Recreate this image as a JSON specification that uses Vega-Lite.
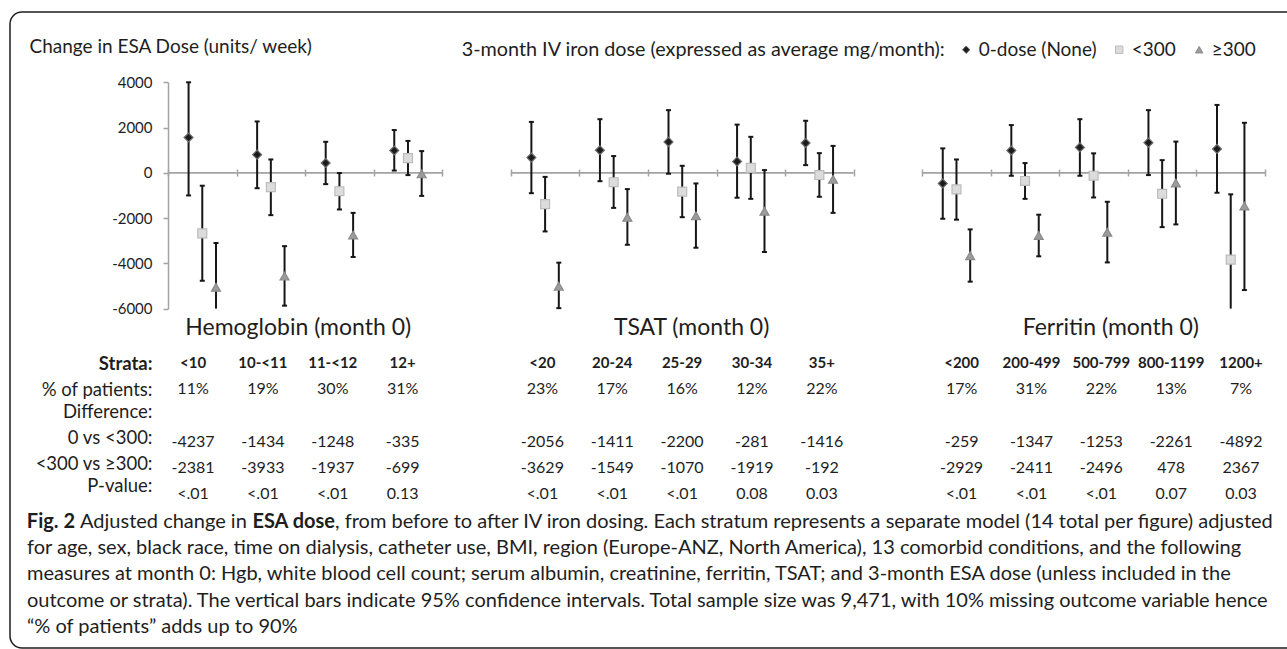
{
  "$schema": "https://vega.github.io/schema/vega-lite/v6.json",
  "width": 1290,
  "height": 636,
  "autosize": {"type": "none"},
  "padding": {"left": 10, "top": 12, "right": -13, "bottom": 1},
  "background": "white",
  "config": {
    "view": {"stroke": "#1e1e1e", "strokeWidth": 1.5, "cornerRadius": 12},
    "font": "Lato",
    "text": {"font": "Lato", "color": "#1e1e1e"},
    "axis": {"grid": false, "labelFont": "Lato", "titleFont": "Lato", "labelColor": "#1e1e1e", "titleColor": "#1e1e1e"},
    "legend": {
      "orient": "none", "legendX": 451.7, "legendY": 28, "direction": "horizontal",
      "titleOrient": "left", "titleFont": "Lato", "titleFontSize": 19.8, "titleFontWeight": "normal",
      "titleColor": "#1e1e1e", "titleLimit": 700, "titlePadding": 11,
      "labelFont": "Lato", "labelFontSize": 19, "labelColor": "#1e1e1e", "labelLimit": 300, "labelOffset": 3,
      "symbolSize": 55, "symbolStrokeWidth": 1, "columnPadding": 13, "padding": 0
    }
  },
  "datasets": {
    "estimates": [
      {"stratum": "<10", "dose": "0-dose (None)", "est": 1560, "lo": -1000, "hi": 4060},
      {"stratum": "<10", "dose": "<300", "est": -2677, "lo": -4770, "hi": -570},
      {"stratum": "<10", "dose": "≥300", "est": -5058, "lo": -7020, "hi": -3100},
      {"stratum": "10-<11", "dose": "0-dose (None)", "est": 802, "lo": -680, "hi": 2270},
      {"stratum": "10-<11", "dose": "<300", "est": -632, "lo": -1870, "hi": 590},
      {"stratum": "10-<11", "dose": "≥300", "est": -4565, "lo": -5870, "hi": -3240},
      {"stratum": "11-<12", "dose": "0-dose (None)", "est": 434, "lo": -500, "hi": 1370},
      {"stratum": "11-<12", "dose": "<300", "est": -814, "lo": -1620, "hi": -10},
      {"stratum": "11-<12", "dose": "≥300", "est": -2751, "lo": -3720, "hi": -1770},
      {"stratum": "12+", "dose": "0-dose (None)", "est": 987, "lo": 100, "hi": 1890},
      {"stratum": "12+", "dose": "<300", "est": 652, "lo": -100, "hi": 1410},
      {"stratum": "12+", "dose": "≥300", "est": -47, "lo": -1020, "hi": 960},
      {"stratum": "<20", "dose": "0-dose (None)", "est": 673, "lo": -900, "hi": 2250},
      {"stratum": "<20", "dose": "<300", "est": -1383, "lo": -2590, "hi": -180},
      {"stratum": "<20", "dose": "≥300", "est": -5012, "lo": -5980, "hi": -3970},
      {"stratum": "20-24", "dose": "0-dose (None)", "est": 996, "lo": -370, "hi": 2370},
      {"stratum": "20-24", "dose": "<300", "est": -415, "lo": -1550, "hi": 740},
      {"stratum": "20-24", "dose": "≥300", "est": -1964, "lo": -3180, "hi": -720},
      {"stratum": "25-29", "dose": "0-dose (None)", "est": 1367, "lo": -40, "hi": 2770},
      {"stratum": "25-29", "dose": "<300", "est": -833, "lo": -1960, "hi": 310},
      {"stratum": "25-29", "dose": "≥300", "est": -1903, "lo": -3310, "hi": -470},
      {"stratum": "30-34", "dose": "0-dose (None)", "est": 498, "lo": -1100, "hi": 2130},
      {"stratum": "30-34", "dose": "<300", "est": 217, "lo": -1150, "hi": 1590},
      {"stratum": "30-34", "dose": "≥300", "est": -1702, "lo": -3500, "hi": 120},
      {"stratum": "35+", "dose": "0-dose (None)", "est": 1318, "lo": 340, "hi": 2300},
      {"stratum": "35+", "dose": "<300", "est": -98, "lo": -1060, "hi": 870},
      {"stratum": "35+", "dose": "≥300", "est": -290, "lo": -1770, "hi": 1190},
      {"stratum": "<200", "dose": "0-dose (None)", "est": -474, "lo": -2030, "hi": 1080},
      {"stratum": "<200", "dose": "<300", "est": -733, "lo": -2070, "hi": 590},
      {"stratum": "<200", "dose": "≥300", "est": -3662, "lo": -4810, "hi": -2500},
      {"stratum": "200-499", "dose": "0-dose (None)", "est": 986, "lo": -130, "hi": 2110},
      {"stratum": "200-499", "dose": "<300", "est": -361, "lo": -1150, "hi": 430},
      {"stratum": "200-499", "dose": "≥300", "est": -2772, "lo": -3690, "hi": -1850},
      {"stratum": "500-799", "dose": "0-dose (None)", "est": 1124, "lo": -130, "hi": 2370},
      {"stratum": "500-799", "dose": "<300", "est": -129, "lo": -1090, "hi": 860},
      {"stratum": "500-799", "dose": "≥300", "est": -2625, "lo": -3960, "hi": -1280},
      {"stratum": "800-1199", "dose": "0-dose (None)", "est": 1334, "lo": -100, "hi": 2770},
      {"stratum": "800-1199", "dose": "<300", "est": -927, "lo": -2400, "hi": 560},
      {"stratum": "800-1199", "dose": "≥300", "est": -449, "lo": -2280, "hi": 1380},
      {"stratum": "1200+", "dose": "0-dose (None)", "est": 1055, "lo": -880, "hi": 3000},
      {"stratum": "1200+", "dose": "<300", "est": -3837, "lo": -6720, "hi": -950},
      {"stratum": "1200+", "dose": "≥300", "est": -1470, "lo": -5180, "hi": 2210}
    ],
    "strata": [
      {"panel": "Hemoglobin", "stratum": "<10", "pct": "11%", "d1": "-4237", "d2": "-2381", "p": "<.01"},
      {"panel": "Hemoglobin", "stratum": "10-<11", "pct": "19%", "d1": "-1434", "d2": "-3933", "p": "<.01"},
      {"panel": "Hemoglobin", "stratum": "11-<12", "pct": "30%", "d1": "-1248", "d2": "-1937", "p": "<.01"},
      {"panel": "Hemoglobin", "stratum": "12+", "pct": "31%", "d1": "-335", "d2": "-699", "p": "0.13"},
      {"panel": "TSAT", "stratum": "<20", "pct": "23%", "d1": "-2056", "d2": "-3629", "p": "<.01"},
      {"panel": "TSAT", "stratum": "20-24", "pct": "17%", "d1": "-1411", "d2": "-1549", "p": "<.01"},
      {"panel": "TSAT", "stratum": "25-29", "pct": "16%", "d1": "-2200", "d2": "-1070", "p": "<.01"},
      {"panel": "TSAT", "stratum": "30-34", "pct": "12%", "d1": "-281", "d2": "-1919", "p": "0.08"},
      {"panel": "TSAT", "stratum": "35+", "pct": "22%", "d1": "-1416", "d2": "-192", "p": "0.03"},
      {"panel": "Ferritin", "stratum": "<200", "pct": "17%", "d1": "-259", "d2": "-2929", "p": "<.01"},
      {"panel": "Ferritin", "stratum": "200-499", "pct": "31%", "d1": "-1347", "d2": "-2411", "p": "<.01"},
      {"panel": "Ferritin", "stratum": "500-799", "pct": "22%", "d1": "-1253", "d2": "-2496", "p": "<.01"},
      {"panel": "Ferritin", "stratum": "800-1199", "pct": "13%", "d1": "-2261", "d2": "478", "p": "0.07"},
      {"panel": "Ferritin", "stratum": "1200+", "pct": "7%", "d1": "-4892", "d2": "2367", "p": "0.03"}
    ],
    "caption": [
      {"line": "1", "run": "fig", "text": "Fig. 2"},
      {"line": "1", "run": "lead", "text": "Adjusted change in"},
      {"line": "1", "run": "term", "text": "ESA dose"},
      {"line": "1", "run": "tail", "text": ", from before to after IV iron dosing. Each stratum represents a separate model (14 total per figure) adjusted"},
      {"line": "2", "run": "body", "text": "for age, sex, black race, time on dialysis, catheter use, BMI, region (Europe-ANZ, North America), 13 comorbid conditions, and the following"},
      {"line": "3", "run": "body", "text": "measures at month 0: Hgb, white blood cell count; serum albumin, creatinine, ferritin, TSAT; and 3-month ESA dose (unless included in the"},
      {"line": "4", "run": "body", "text": "outcome or strata). The vertical bars indicate 95% confidence intervals. Total sample size was 9,471, with 10% missing outcome variable hence"},
      {"line": "5", "run": "body", "text": "“% of patients” adds up to 90%"}
    ]
  },
  "layer": [
    {
      "encoding": {
        "x": {
          "field": "stratum", "type": "nominal",
          "scale": {
            "domain": ["<10", "10-<11", "11-<12", "12+", "gap1", "<20", "20-24", "25-29", "30-34", "35+", "gap2", "<200", "200-499", "500-799", "800-1199", "1200+"],
            "range": [158, 1255], "paddingInner": 0, "paddingOuter": 0
          },
          "axis": {
            "orient": "top", "offset": -164, "domain": false, "labels": false, "ticks": true,
            "tickBand": "extent", "tickSize": 7, "tickColor": "#a3a3a3", "tickWidth": 1.5, "title": null
          }
        }
      },
      "layer": [
        {
          "data": {"name": "strata"},
          "mark": {"type": "bar", "fill": null, "stroke": "#a3a3a3", "strokeWidth": 1.8},
          "encoding": {
            "y": {
              "datum": 0, "type": "quantitative",
              "scale": {"domain": [-6000, 4000], "range": [296.6, 70.3], "nice": false, "zero": false, "clamp": true},
              "axis": {
                "orient": "left", "offset": -158, "values": [-6000, -4000, -2000, 0, 2000, 4000],
                "labelExpr": "datum.value + ''", "domainColor": "#a3a3a3", "domainWidth": 1.5,
                "tickColor": "#a3a3a3", "tickWidth": 1.5, "tickSize": 5, "labelPadding": 11, "labelFontSize": 15,
                "title": "Change in ESA Dose (units/ week)", "titleAngle": 0, "titleAlign": "left", "titleBaseline": "middle",
                "titleX": -139, "titleY": 34, "titleFontSize": 19, "titleFontWeight": "normal", "titleLimit": 500
              }
            },
            "y2": {"datum": 0}
          }
        },
        {
          "data": {"name": "estimates"},
          "mark": {"type": "rule", "color": "#161616", "strokeWidth": 2},
          "encoding": {
            "xOffset": {"field": "dose", "type": "nominal", "scale": {"domain": ["0-dose (None)", "<300", "≥300"], "paddingInner": 0, "paddingOuter": 1.04}},
            "y": {
              "field": "lo", "type": "quantitative",
              "scale": {"domain": [-6000, 4000], "range": [296.6, 70.3], "nice": false, "zero": false, "clamp": true},
              "axis": {
                "orient": "left", "offset": -158, "values": [-6000, -4000, -2000, 0, 2000, 4000],
                "labelExpr": "datum.value + ''", "domainColor": "#a3a3a3", "domainWidth": 1.5,
                "tickColor": "#a3a3a3", "tickWidth": 1.5, "tickSize": 5, "labelPadding": 11, "labelFontSize": 15,
                "title": "Change in ESA Dose (units/ week)", "titleAngle": 0, "titleAlign": "left", "titleBaseline": "middle",
                "titleX": -139, "titleY": 34, "titleFontSize": 19, "titleFontWeight": "normal", "titleLimit": 500
              }
            },
            "y2": {"field": "hi"}
          }
        },
        {
          "data": {"name": "estimates"},
          "transform": [
            {"fold": ["lo", "hi"], "as": ["bound", "ci"]},
            {"filter": "datum.ci >= -6000"}
          ],
          "mark": {"type": "tick", "color": "#161616", "thickness": 2, "size": 5, "opacity": 1},
          "encoding": {
            "xOffset": {"field": "dose", "type": "nominal", "scale": {"domain": ["0-dose (None)", "<300", "≥300"], "paddingInner": 0, "paddingOuter": 1.04}},
            "y": {
              "field": "ci", "type": "quantitative",
              "scale": {"domain": [-6000, 4000], "range": [296.6, 70.3], "nice": false, "zero": false, "clamp": true},
              "axis": {
                "orient": "left", "offset": -158, "values": [-6000, -4000, -2000, 0, 2000, 4000],
                "labelExpr": "datum.value + ''", "domainColor": "#a3a3a3", "domainWidth": 1.5,
                "tickColor": "#a3a3a3", "tickWidth": 1.5, "tickSize": 5, "labelPadding": 11, "labelFontSize": 15,
                "title": "Change in ESA Dose (units/ week)", "titleAngle": 0, "titleAlign": "left", "titleBaseline": "middle",
                "titleX": -139, "titleY": 34, "titleFontSize": 19, "titleFontWeight": "normal", "titleLimit": 500
              }
            }
          }
        },
        {
          "data": {"name": "estimates"},
          "mark": {"type": "point", "filled": true, "size": 80, "strokeWidth": 1.2, "opacity": 1},
          "encoding": {
            "xOffset": {"field": "dose", "type": "nominal", "scale": {"domain": ["0-dose (None)", "<300", "≥300"], "paddingInner": 0, "paddingOuter": 1.04}},
            "y": {
              "field": "est", "type": "quantitative",
              "scale": {"domain": [-6000, 4000], "range": [296.6, 70.3], "nice": false, "zero": false, "clamp": true},
              "axis": {
                "orient": "left", "offset": -158, "values": [-6000, -4000, -2000, 0, 2000, 4000],
                "labelExpr": "datum.value + ''", "domainColor": "#a3a3a3", "domainWidth": 1.5,
                "tickColor": "#a3a3a3", "tickWidth": 1.5, "tickSize": 5, "labelPadding": 11, "labelFontSize": 15,
                "title": "Change in ESA Dose (units/ week)", "titleAngle": 0, "titleAlign": "left", "titleBaseline": "middle",
                "titleX": -139, "titleY": 34, "titleFontSize": 19, "titleFontWeight": "normal", "titleLimit": 500
              }
            },
            "shape": {"field": "dose", "type": "nominal", "scale": {"domain": ["0-dose (None)", "<300", "≥300"], "range": ["diamond", "square", "triangle-up"]}, "title": "3-month IV iron dose (expressed as average mg/month):"},
            "fill": {"field": "dose", "type": "nominal", "scale": {"domain": ["0-dose (None)", "<300", "≥300"], "range": ["#1c1c1c", "#dcdcdc", "#9c9c9c"]}, "title": "3-month IV iron dose (expressed as average mg/month):"},
            "stroke": {"field": "dose", "type": "nominal", "scale": {"domain": ["0-dose (None)", "<300", "≥300"], "range": ["#6e6e6e", "#bcbcbc", "#8a8a8a"]}, "title": "3-month IV iron dose (expressed as average mg/month):"}
          }
        }
      ]
    },
    {
      "data": {"name": "strata"},
      "transform": [{"fold": ["stratum", "pct", "d1", "d2", "p"], "as": ["item", "val"]}],
      "encoding": {
        "x": {
          "field": "stratum", "type": "nominal",
          "scale": {
            "domain": ["<10", "10-<11", "11-<12", "12+", "gap1", "<20", "20-24", "25-29", "30-34", "35+", "gap2", "<200", "200-499", "500-799", "800-1199", "1200+"],
            "range": [148.1, 1266], "paddingInner": 0, "paddingOuter": 0
          },
          "axis": {
            "orient": "top", "offset": -315, "domain": false, "ticks": false, "tickSize": 0, "labelPadding": 0,
            "labelAngle": 0, "labelBaseline": "middle", "labelFontSize": 23, "labelLimit": 0, "title": null,
            "labelExpr": "datum.value === '11-<12' ? 'Hemoglobin (month 0)' : datum.value === '25-29' ? 'TSAT (month 0)' : datum.value === '500-799' ? 'Ferritin (month 0)' : ''",
            "labelOffset": {"condition": {"test": "datum.value === '11-<12'", "value": -35}, "value": 9}
          }
        },
        "y": {
          "field": "item", "type": "nominal",
          "scale": {"type": "point", "domain": ["stratum", "pct", "diff", "d1", "d2", "p"], "range": [351, 482], "padding": 0},
          "axis": {
            "orient": "left", "offset": -158, "domain": false, "ticks": false, "tickSize": 0, "labelPadding": 16,
            "labelFontSize": 18.5, "labelLimit": 0, "title": null,
            "labelExpr": "datum.value === 'stratum' ? 'Strata:' : datum.value === 'pct' ? '% of patients:' : datum.value === 'diff' ? 'Difference:' : datum.value === 'd1' ? '0 vs <300:' : datum.value === 'd2' ? '<300 vs ≥300:' : 'P-value:'",
            "labelFontWeight": {"condition": {"test": "datum.value === 'stratum'", "value": "bold"}, "value": "normal"},
            "labelOffset": {"condition": [{"test": "datum.value === 'p'", "value": -9}, {"test": "datum.value === 'stratum' || datum.value === 'pct'", "value": 0}], "value": -4}
          }
        },
        "text": {"field": "val", "type": "nominal"}
      },
      "layer": [
        {"transform": [{"filter": "datum.item === 'stratum'"}], "mark": {"type": "text", "fontWeight": "bold", "fontSize": 15}},
        {"transform": [{"filter": "datum.item !== 'stratum'"}], "mark": {"type": "text", "fontSize": 16}}
      ]
    },
    {
      "data": {"name": "caption"},
      "encoding": {
        "x": {"datum": 0, "type": "quantitative", "scale": {"domain": [0, 1], "range": [0, 1277]}, "axis": null},
        "y": {"field": "line", "type": "nominal", "scale": {"type": "point", "domain": ["1", "2", "3", "4", "5"], "range": [509.5, 615], "padding": 0}, "axis": null},
        "text": {"field": "text", "type": "nominal"}
      },
      "layer": [
        {"transform": [{"filter": "datum.run === 'fig'"}], "mark": {"type": "text", "align": "right", "fontWeight": "bold", "fontSize": 20, "dx": 65}},
        {"transform": [{"filter": "datum.run === 'lead'"}], "mark": {"type": "text", "align": "left", "fontSize": 20, "dx": 70}},
        {"transform": [{"filter": "datum.run === 'term'"}], "mark": {"type": "text", "align": "right", "fontWeight": "bold", "fontSize": 20, "dx": 325}},
        {"transform": [{"filter": "datum.run === 'tail'"}], "mark": {"type": "text", "align": "left", "fontSize": 20, "dx": 325}},
        {"transform": [{"filter": "datum.run === 'body'"}], "mark": {"type": "text", "align": "left", "fontSize": 20, "dx": 17}}
      ]
    }
  ],
  "resolve": {"scale": {"x": "independent", "y": "independent"}}
}
